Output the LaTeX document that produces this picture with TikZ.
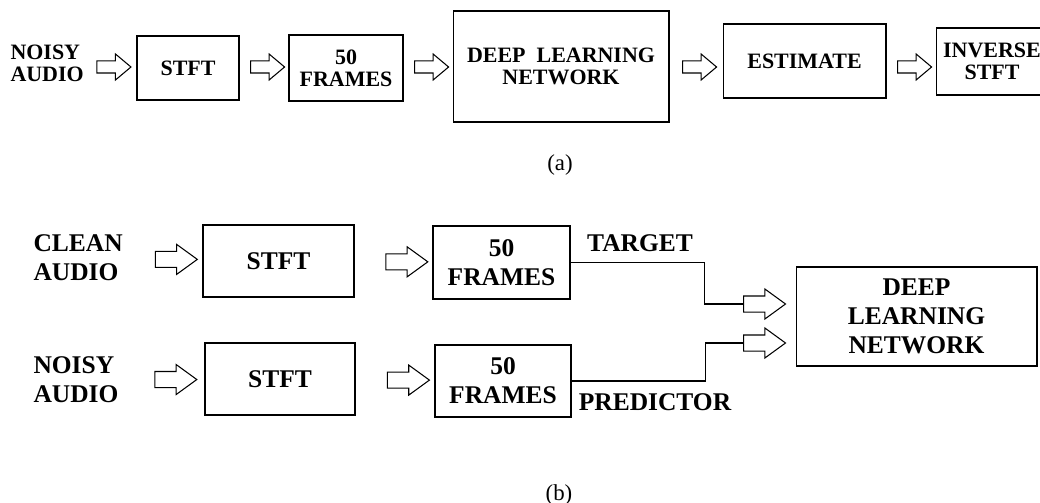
\documentclass[tikz,border=0pt]{standalone}
\usepackage{fontspec}
\setmainfont{Liberation Serif}
\usetikzlibrary{shapes.arrows}

\newcommand\fontA{\fontsize{12.5}{12.5}\selectfont\bfseries}
\newcommand\fontB{\fontsize{14.5}{16.5}\selectfont\bfseries}

\begin{document}
\begin{tikzpicture}[x=0.02cm, y=-0.02cm, line width=0.6pt,
	txtA/.style={align=left, inner sep=0pt, font=\fontA},
	txtB/.style={align=left, inner sep=0pt, font=\fontB},
	blockA/.style={draw, align=center, inner sep=0pt, font=\fontA},
	blockB/.style={draw, align=center, inner sep=0pt, font=\fontB},
	harrowA/.style={single arrow, draw, inner xsep=0pt, inner ysep=0.11cm, minimum height=0.68cm,
		single arrow head extend=0.14cm, single arrow tip angle=80},
	harrowB/.style={single arrow, draw, inner xsep=0pt, inner ysep=0.15cm, minimum height=0.84cm,
		single arrow head extend=0.14cm, single arrow tip angle=72}]
	\useasboundingbox (0,0) rectangle (1040,503);

	% (a) enhancement chain
	\node[txtA, anchor=west] (noisyA) at (10,63) {NOISY\\AUDIO};
	\node[blockA, minimum width=2.04cm, minimum height=1.28cm] (stftA) at (188,68) {STFT};
	\node[blockA, minimum width=2.28cm, minimum height=1.32cm] (frA) at (346,68) {50\\FRAMES};
	\node[blockA, minimum width=4.32cm, minimum height=2.22cm] (dlnA) at (561,66.5) {DEEP\ \ LEARNING\\NETWORK};
	\node[blockA, minimum width=3.26cm, minimum height=1.48cm] (estA) at (804.5,61) {ESTIMATE};
	\node[blockA, minimum width=2.24cm, minimum height=1.34cm] (invA) at (992,61.5) {INVERSE\\STFT};
	\coordinate (rowA) at (0,67);
	\foreach \a/\b in {noisyA/stftA, stftA/frA, frA/dlnA, dlnA/estA, estA/invA}
		\path (\a.east |- rowA) -- node[harrowA] {} (\b.west |- rowA);
	\node[font=\fontsize{13}{13}\selectfont] (capA) at (560,165) {(a)};

	% (b) training set-up
	\node[txtB, anchor=west] (cleanB) at (33,258) {CLEAN\\AUDIO};
	\node[txtB, anchor=west] (noisyB) at (33,380) {NOISY\\AUDIO};
	\node[blockB, minimum width=3.02cm, minimum height=1.44cm] (stftB1) at (278.5,261) {STFT};
	\node[blockB, minimum width=3.0cm, minimum height=1.44cm] (stftB2) at (280,379) {STFT};
	\node[blockB, minimum width=2.74cm, minimum height=1.46cm] (frB1) at (501.5,262.5) {50\\FRAMES};
	\node[blockB, minimum width=2.72cm, minimum height=1.44cm] (frB2) at (503,381) {50\\FRAMES};
	\node[blockB, minimum width=4.82cm, minimum height=1.98cm] (dlnB) at (916.5,316.5) {DEEP\\LEARNING\\NETWORK};
	\path (cleanB) -- node[harrowB, pos=0.6] {} (stftB1);
	\path (stftB1) -- node[harrowB, pos=0.6] {} (frB1);
	\path (noisyB) -- node[harrowB, pos=0.6] {} (stftB2);
	\path (stftB2) -- node[harrowB, pos=0.6] {} (frB2);

	\coordinate (tgtend) at (743,304);
	\coordinate (prdend) at (743,343);
	\draw (frB1.east) -- ++(134,0) |- (tgtend);
	\draw (frB2.east) -- ++(134,0) |- (prdend);
	\node[harrowB, anchor=tail] (tgtarrow) at (tgtend) {};
	\node[harrowB, anchor=tail] (prdarrow) at (prdend) {};
	\node[txtB] (tgt) at (640,243) {TARGET};
	\node[txtB] (prd) at (655,402) {PREDICTOR};
	\node[font=\fontsize{13}{13}\selectfont] (capB) at (559,495) {(b)};
\end{tikzpicture}
\end{document}
